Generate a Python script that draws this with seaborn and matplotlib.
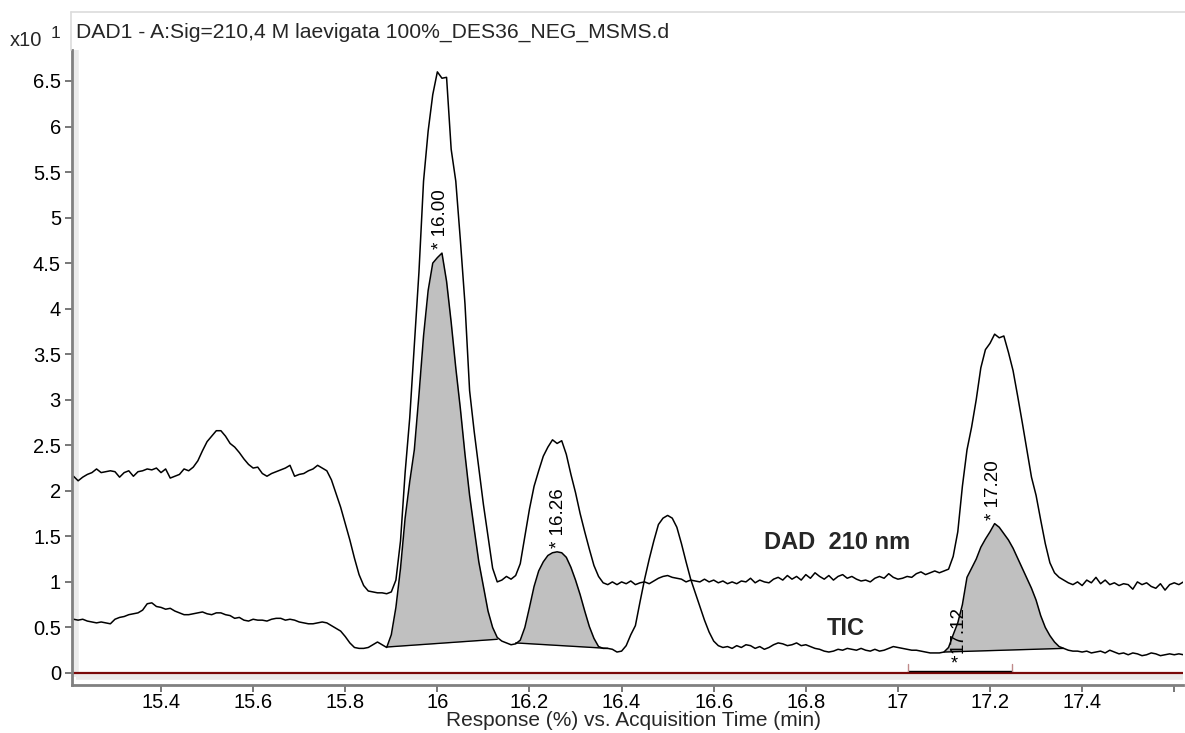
import numpy as np
import pandas as pd
import matplotlib
matplotlib.use("Agg")
import matplotlib.pyplot as plt
from matplotlib.lines import Line2D
import seaborn as sns

# ---------------- data ----------------
t_start = 15.21          # first sample (min)
t_step = 0.01            # sampling step (min)

# DAD 210 nm trace (x10^1 %), one value per 0.01 min starting at 15.21
dad_signal = [
    2.16, 2.11, 2.15, 2.18, 2.20, 2.24, 2.20, 2.21, 2.22, 2.21,   # 15.21
    2.15, 2.20, 2.22, 2.16, 2.21, 2.22, 2.24, 2.23, 2.25, 2.20,   # 15.31
    2.24, 2.14, 2.16, 2.18, 2.24, 2.22, 2.26, 2.33, 2.44, 2.54,   # 15.41
    2.60, 2.66, 2.66, 2.60, 2.52, 2.48, 2.42, 2.35, 2.29, 2.25,   # 15.51
    2.26, 2.19, 2.16, 2.19, 2.21, 2.23, 2.25, 2.28, 2.16, 2.18,   # 15.61
    2.19, 2.22, 2.24, 2.28, 2.25, 2.22, 2.12, 1.97, 1.82, 1.64,   # 15.71
    1.46, 1.26, 1.08, 0.96, 0.90, 0.89, 0.88, 0.88, 0.87, 0.89,   # 15.81
    1.02, 1.45, 2.20, 2.80, 3.60, 4.40, 5.40, 5.95, 6.35, 6.60,   # 15.91
    6.53, 6.54, 5.75, 5.40, 4.75, 4.05, 3.10, 2.65, 2.25, 1.85,   # 16.01
    1.50, 1.15, 1.00, 1.02, 1.06, 1.03, 1.07, 1.20, 1.50, 1.80,   # 16.11
    2.05, 2.22, 2.38, 2.48, 2.56, 2.52, 2.55, 2.40, 2.18, 1.98,   # 16.21
    1.75, 1.55, 1.36, 1.18, 1.06, 0.99, 0.97, 1.00, 0.97, 1.00,   # 16.31
    0.98, 1.01, 0.97, 0.99, 1.00, 0.98, 1.01, 1.04, 1.06, 1.07,   # 16.41
    1.05, 1.04, 1.03, 1.00, 1.02, 1.01, 1.00, 1.03, 1.00, 1.02,   # 16.51
    0.99, 1.01, 0.98, 1.00, 0.98, 1.01, 1.00, 1.04, 0.99, 1.02,   # 16.61
    1.00, 0.99, 1.03, 1.05, 1.02, 1.07, 1.03, 1.06, 1.02, 1.08,   # 16.71
    1.04, 1.10, 1.06, 1.03, 1.07, 1.02, 1.06, 1.08, 1.04, 1.06,   # 16.81
    1.03, 1.01, 1.02, 1.00, 1.04, 1.06, 1.04, 1.09, 1.05, 1.03,   # 16.91
    1.04, 1.06, 1.05, 1.09, 1.11, 1.08, 1.10, 1.12, 1.10, 1.12,   # 17.01
    1.14, 1.28, 1.55, 2.05, 2.45, 2.70, 3.00, 3.35, 3.55, 3.62,   # 17.11
    3.72, 3.68, 3.70, 3.52, 3.32, 3.04, 2.75, 2.45, 2.15, 1.95,   # 17.21
    1.68, 1.42, 1.21, 1.10, 1.05, 1.02, 0.99, 0.97, 1.00, 0.96,   # 17.31
    1.02, 0.99, 1.05, 0.98, 1.02, 0.97, 0.99, 0.96, 0.98, 0.97,   # 17.41
    0.92, 1.00, 0.97, 0.99, 0.95, 0.93, 0.98, 0.91, 0.97, 0.99,   # 17.51
    0.97, 1.00,                                                   # 17.61
]

# TIC trace (x10^1 %), same sampling
tic_signal = [
    0.59, 0.58, 0.59, 0.57, 0.56, 0.55, 0.56, 0.55, 0.54, 0.59,   # 15.21
    0.61, 0.62, 0.64, 0.65, 0.66, 0.69, 0.76, 0.77, 0.73, 0.72,   # 15.31
    0.70, 0.71, 0.68, 0.66, 0.64, 0.64, 0.65, 0.66, 0.67, 0.65,   # 15.41
    0.64, 0.66, 0.66, 0.64, 0.63, 0.60, 0.61, 0.58, 0.57, 0.59,   # 15.51
    0.58, 0.58, 0.57, 0.59, 0.60, 0.60, 0.58, 0.59, 0.58, 0.56,   # 15.61
    0.55, 0.54, 0.54, 0.55, 0.56, 0.55, 0.52, 0.49, 0.46, 0.40,   # 15.71
    0.33, 0.28, 0.27, 0.27, 0.28, 0.31, 0.34, 0.31, 0.28, 0.42,   # 15.81
    0.72, 1.15, 1.70, 2.10, 2.45, 3.05, 3.70, 4.20, 4.50, 4.56,   # 15.91
    4.61, 4.30, 3.85, 3.35, 2.90, 2.40, 1.95, 1.58, 1.22, 0.95,   # 16.01
    0.68, 0.50, 0.39, 0.35, 0.33, 0.31, 0.32, 0.36, 0.50, 0.72,   # 16.11
    0.95, 1.12, 1.22, 1.29, 1.32, 1.33, 1.32, 1.27, 1.16, 1.02,   # 16.21
    0.86, 0.68, 0.51, 0.38, 0.29, 0.27, 0.27, 0.26, 0.23, 0.24,   # 16.31
    0.30, 0.42, 0.52, 0.78, 1.03, 1.25, 1.45, 1.63, 1.70, 1.73,   # 16.41
    1.70, 1.60, 1.42, 1.22, 1.03, 0.88, 0.73, 0.58, 0.45, 0.35,   # 16.51
    0.30, 0.28, 0.29, 0.27, 0.30, 0.28, 0.31, 0.30, 0.27, 0.29,   # 16.61
    0.26, 0.28, 0.31, 0.33, 0.32, 0.30, 0.31, 0.33, 0.30, 0.31,   # 16.71
    0.29, 0.27, 0.26, 0.24, 0.23, 0.24, 0.26, 0.25, 0.27, 0.26,   # 16.81
    0.25, 0.27, 0.25, 0.24, 0.26, 0.24, 0.25, 0.27, 0.29, 0.28,   # 16.91
    0.27, 0.26, 0.25, 0.25, 0.24, 0.23, 0.22, 0.22, 0.22, 0.23,   # 17.01
    0.28, 0.42, 0.55, 0.75, 1.05, 1.15, 1.25, 1.38, 1.47, 1.55,   # 17.11
    1.64, 1.60, 1.53, 1.46, 1.37, 1.26, 1.15, 1.04, 0.93, 0.80,   # 17.21
    0.63, 0.50, 0.41, 0.34, 0.29, 0.27, 0.25, 0.24, 0.24, 0.23,   # 17.31
    0.24, 0.22, 0.23, 0.24, 0.22, 0.25, 0.23, 0.21, 0.22, 0.20,   # 17.41
    0.22, 0.21, 0.19, 0.20, 0.22, 0.21, 0.19, 0.20, 0.21, 0.20,   # 17.51
    0.21, 0.20,                                                   # 17.61
]

# integrated TIC peaks: start/end time and baseline level at each end
peak_start = [15.89, 16.17, 17.10]
peak_end = [16.13, 16.37, 17.36]
base_start = [0.285, 0.33, 0.23]
base_end = [0.37, 0.27, 0.27]
peak_labels = ["* 16.00", "* 16.26", "* 17.20"]
peak_rt = [16.006, 16.262, 17.207]

# small unresolved peak marked at 17.12 (bracket range)
minor_label = "17.12"
minor_rt = 17.12
bracket_range = [17.022, 17.248]

x_ticks = [15.4, 15.6, 15.8, 16.0, 16.2, 16.4, 16.6, 16.8, 17.0, 17.2, 17.4, 17.6]
x_ticklabels = ["15.4", "15.6", "15.8", "16", "16.2", "16.4", "16.6", "16.8", "17", "17.2", "17.4", ""]
y_ticks = [0, 0.5, 1, 1.5, 2, 2.5, 3, 3.5, 4, 4.5, 5, 5.5, 6, 6.5]
y_ticklabels = ["0", "0.5", "1", "1.5", "2", "2.5", "3", "3.5", "4", "4.5", "5", "5.5", "6", "6.5"]

title_text = "DAD1 - A:Sig=210,4 M laevigata 100%_DES36_NEG_MSMS.d"
xlabel_text = "Response (%) vs. Acquisition Time (min)"

# ---------------- plotting ----------------
sns.set_style("white")
plt.rcParams["font.family"] = ["Liberation Sans", "DejaVu Sans"]

time = np.round(t_start + t_step * np.arange(len(dad_signal)), 2)
dad = np.array(dad_signal)
tic = np.array(tic_signal)

df = pd.DataFrame({"time": time, "DAD": dad, "TIC": tic})
long = df.melt(id_vars="time", var_name="trace", value_name="response")

W, H = 1185, 733
fig = plt.figure(figsize=(W / 100, H / 100), dpi=100)
ax = fig.add_axes([72 / W, 1 - 685 / H, (1183 - 72) / W, (685 - 50) / H])

# shaded integrated peaks
for s, e, b0, b1 in zip(peak_start, peak_end, base_start, base_end):
    m = (time >= s - 1e-9) & (time <= e + 1e-9)
    base = np.interp(time[m], [s, e], [b0, b1])
    ax.fill_between(time[m], tic[m], base, color="#c0c0c0", linewidth=0, zorder=1)
    ax.plot([s, e], [b0, b1], color="black", lw=1.0, zorder=3)

sns.lineplot(data=long, x="time", y="response", hue="trace",
             palette={"DAD": "black", "TIC": "black"}, legend=False,
             lw=1.1, ax=ax, zorder=2)

# zero line
ax.axhline(0, color="#7a0a0a", lw=1.6, zorder=2)

# peak labels
for lab, rt, s, e in zip(peak_labels, peak_rt, peak_start, peak_end):
    m = (time >= s) & (time <= e)
    top = tic[m].max()
    ax.text(rt, top + 0.04, lab, rotation=90, ha="center", va="bottom",
            fontsize=13.5, color="black", zorder=4)
ax.text(minor_rt + 0.011, 0.22, minor_label, rotation=90, ha="center",
        va="bottom", fontsize=13.5, color="black", zorder=4)

# bracket under 17.12
bx0, bx1 = bracket_range
ax.plot([bx0, bx1], [0.02, 0.02], color="black", lw=1.0, zorder=3)
ax.plot([bx0, bx0], [0.02, 0.10], color="#c08a8a", lw=1.0, zorder=3)
ax.plot([bx1, bx1], [0.02, 0.10], color="#c08a8a", lw=1.0, zorder=3)
ax.text(minor_rt + 0.002, 0.0, "*", ha="center", va="bottom", fontsize=13,
        color="black", zorder=4)

# trace names
ax.text(16.709, 1.43, "DAD  210 nm", fontsize=17, fontweight="bold",
        ha="left", va="center")
ax.text(16.846, 0.49, "TIC", fontsize=17, fontweight="bold",
        ha="left", va="center")

# axes styling
ax.set_xlim(15.2067, 17.619)
ax.set_ylim(-0.132, 6.84)
ax.set_xticks(x_ticks)
ax.set_xticklabels(x_ticklabels)
ax.set_yticks(y_ticks)
ax.set_yticklabels(y_ticklabels)
ax.set_xlabel("")
ax.set_ylabel("")
for side in ["top", "right"]:
    ax.spines[side].set_visible(False)
for side in ["left", "bottom"]:
    ax.spines[side].set_color("#808080")
    ax.spines[side].set_linewidth(2.0)
ax.tick_params(axis="both", which="major", direction="out", length=5,
               width=1.2, color="#606060", labelsize=14.5, labelcolor="black")
ax.tick_params(axis="x", pad=0.5)
ax.tick_params(axis="y", pad=3)
ax.xaxis.set_ticks_position("bottom")
ax.yaxis.set_ticks_position("left")

# light "shadow" strips along the axes
ax.plot([0.004, 0.004], [0.012, 1.0], transform=ax.transAxes, color="#ebebeb",
        lw=4, zorder=0, solid_capstyle="butt")
ax.plot([0.004, 1.0], [0.012, 0.012], transform=ax.transAxes, color="#ebebeb",
        lw=4, zorder=0, solid_capstyle="butt")

# faint frame of the plot window
fig.add_artist(Line2D([71 / W, 1.0], [1 - 12 / H, 1 - 12 / H], color="#dcdcdc", lw=1.2))
fig.add_artist(Line2D([71 / W, 71 / W], [1 - 12 / H, 1 - 50 / H], color="#dcdcdc", lw=1.2))

# texts in the figure
fig.text(76 / W, 1 - 32 / H, title_text, fontsize=15.2, ha="left", va="center")
fig.text(10 / W, 1 - 41 / H, "x10", fontsize=14.5, ha="left", va="center")
fig.text(51 / W, 1 - 34 / H, "1", fontsize=12.5, ha="left", va="center")
fig.text(633 / W, 1 - 721 / H, xlabel_text, fontsize=15, ha="center", va="center")

fig.savefig("out.png", dpi=100, facecolor="white")
